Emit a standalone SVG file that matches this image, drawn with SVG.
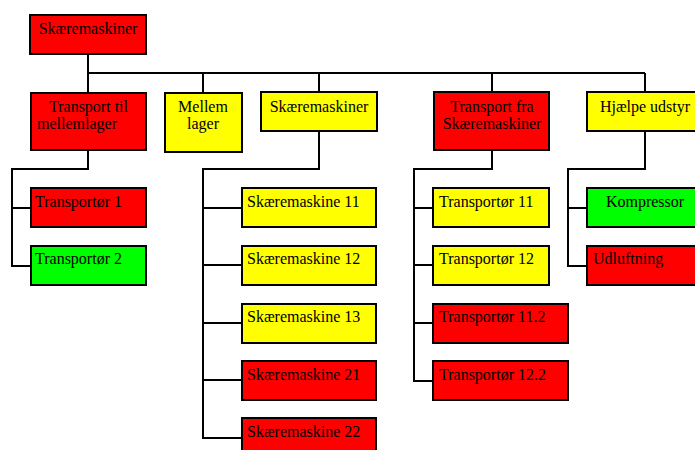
<svg xmlns="http://www.w3.org/2000/svg" width="695" height="450" viewBox="0 0 695 450">
  <style>
    .box { stroke: #000; stroke-width: 2; }
    .red { fill: #ff0000; }
    .yellow { fill: #ffff00; }
    .green { fill: #00ff00; }
    .lbl { font-family: "Liberation Serif", "Times New Roman", serif; font-size: 16px; fill: #000; }
    .mid { text-anchor: middle; }
    .wire { fill: none; stroke: #000; stroke-width: 2; }
  </style>
  <rect width="695" height="450" fill="#fff"/>

  <!-- connectors -->
  <g id="connectors">
    <path class="wire" d="M88,54 V73 M88,73 H645 M88,73 V93 M203,73 V93 M319,73 V92 M492,73 V92 M645,73 V92"/>
    <!-- Transport til mellemlager children -->
    <path class="wire" d="M88,150 V169 H12 V266 H31 M12,208 H31"/>
    <!-- Skæremaskiner children -->
    <path class="wire" d="M319,131 V169 H203 V438 H242 M203,208 H242 M203,265 H242 M203,323 H242 M203,380 H242"/>
    <!-- Transport fra Skæremaskiner children -->
    <path class="wire" d="M492,150 V169 H414 V381 H433 M414,208 H433 M414,265 H433 M414,323 H433"/>
    <!-- Hjælpe udstyr children -->
    <path class="wire" d="M645,131 V169 H568 V266 H587 M568,208 H587"/>
  </g>

  <g id="n-root">
    <rect class="box red" x="30" y="15" width="116" height="39"/>
    <text class="lbl mid" x="88" y="34">Skæremaskiner</text>
  </g>

  <g id="n-transport-til">
    <rect class="box red" x="31" y="93" width="115" height="57"/>
    <text class="lbl" x="49" y="112">Transport til</text>
    <text class="lbl" x="37" y="129">mellemlager</text>
  </g>

  <g id="n-mellem">
    <rect class="box yellow" x="165" y="93" width="77" height="59"/>
    <text class="lbl mid" x="203" y="112">Mellem</text>
    <text class="lbl mid" x="203" y="129">lager</text>
  </g>

  <g id="n-skaere">
    <rect class="box yellow" x="261" y="92" width="116" height="39"/>
    <text class="lbl mid" x="319" y="112">Skæremaskiner</text>
  </g>

  <g id="n-transport-fra">
    <rect class="box red" x="434" y="92" width="115" height="58"/>
    <text class="lbl mid" x="492" y="112">Transport fra</text>
    <text class="lbl mid" x="492" y="129">Skæremaskiner</text>
  </g>

  <g id="n-hjaelpe">
    <rect class="box yellow" x="587" y="92" width="116" height="39"/>
    <text class="lbl mid" x="645" y="112">Hjælpe udstyr</text>
  </g>

  <g id="n-t1">
    <rect class="box red" x="31" y="188" width="115" height="39"/>
    <text class="lbl" x="35" y="207">Transportør 1</text>
  </g>
  <g id="n-t2">
    <rect class="box green" x="31" y="246" width="115" height="39"/>
    <text class="lbl" x="35" y="264">Transportør 2</text>
  </g>

  <g id="n-s11">
    <rect class="box yellow" x="242" y="188" width="134" height="39"/>
    <text class="lbl" x="247" y="207">Skæremaskine 11</text>
  </g>
  <g id="n-s12">
    <rect class="box yellow" x="242" y="246" width="134" height="39"/>
    <text class="lbl" x="247" y="264">Skæremaskine 12</text>
  </g>
  <g id="n-s13">
    <rect class="box yellow" x="242" y="304" width="134" height="39"/>
    <text class="lbl" x="247" y="322">Skæremaskine 13</text>
  </g>
  <g id="n-s21">
    <rect class="box red" x="242" y="361" width="134" height="39"/>
    <text class="lbl" x="247" y="380">Skæremaskine 21</text>
  </g>
  <g id="n-s22">
    <rect class="box red" x="242" y="418" width="134" height="39"/>
    <text class="lbl" x="247" y="437">Skæremaskine 22</text>
  </g>

  <g id="n-t11">
    <rect class="box yellow" x="433" y="188" width="116" height="39"/>
    <text class="lbl" x="439" y="207">Transportør 11</text>
  </g>
  <g id="n-t12">
    <rect class="box yellow" x="433" y="246" width="116" height="39"/>
    <text class="lbl" x="439" y="264">Transportør 12</text>
  </g>
  <g id="n-t112">
    <rect class="box red" x="433" y="304" width="135" height="39"/>
    <text class="lbl" x="439" y="322">Transportør 11.2</text>
  </g>
  <g id="n-t122">
    <rect class="box red" x="433" y="361" width="135" height="39"/>
    <text class="lbl" x="439" y="380">Transportør 12.2</text>
  </g>

  <g id="n-kompressor">
    <rect class="box green" x="587" y="188" width="116" height="39"/>
    <text class="lbl mid" x="645" y="207">Kompressor</text>
  </g>
  <g id="n-udluftning">
    <rect class="box red" x="587" y="246" width="116" height="39"/>
    <text class="lbl" x="593" y="264">Udluftning</text>
  </g>
</svg>
